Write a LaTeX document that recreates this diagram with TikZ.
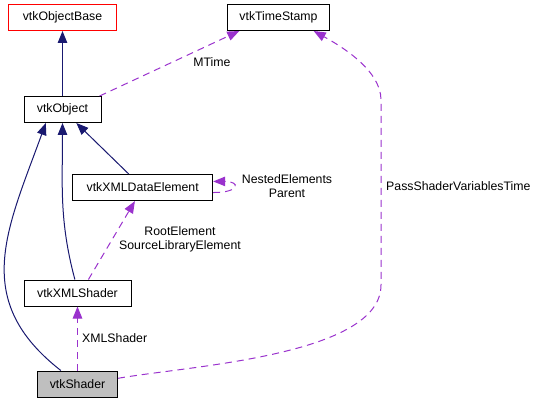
\documentclass[tikz,border=0pt]{standalone}
\usepackage{fontspec}
\setmainfont{Liberation Sans}
\usetikzlibrary{positioning,arrows.meta}
\definecolor{navyedge}{HTML}{191970}
\definecolor{relpurple}{HTML}{9A32CD}
\definecolor{boxgrey}{HTML}{BFBFBF}
\begin{document}
\begin{tikzpicture}[x=1pt,y=1pt,font=\fontsize{12.3}{14}\selectfont,
  cls/.style={draw=black,line width=1pt,fill=white,minimum height=26pt,inner sep=0pt},
  inh/.style={draw=navyedge,line width=1pt,-{Triangle[length=12pt,width=9.5pt]}},
  rel/.style={draw=relpurple,line width=1pt,dash pattern=on 7pt off 5pt,-{Triangle[length=12pt,width=9.5pt]}},
  lbl/.style={inner sep=0pt,align=center}]
\useasboundingbox (0,0) rectangle (545,-403);
\node[cls,minimum width=77pt] (o) at (62.5,-109.5) {vtkObject};
\node[cls,draw=red,minimum width=108pt,above=65pt of o] (ob) {vtkObjectBase};
\node[cls,minimum width=102pt,right=110pt of ob] (ts) {vtkTimeStamp};
\node[cls,minimum width=140pt] (xde) at (142.7,-187.6) {vtkXMLDataElement};
\node[cls,minimum width=107pt] (xs) at (77.5,-293) {vtkXMLShader};
\node[cls,fill=boxgrey,minimum width=80pt,below=64pt of xs] (s) {vtkShader};
\coordinate (pv1) at (381,-285);
\coordinate (pv2) at (381,-100);
\draw[inh] (o) -- (ob);
\draw[inh] (xde) -- (o);
\draw[inh] (xs.101) to[out=105,in=-90] (o);
\draw[inh] (s.141) to[out=142,in=-110,looseness=1.18] (o.-141);
\draw[rel] (o.20) -- (ts.-161);
\draw[rel] (xde.-4.4) to[out=0,in=0,looseness=6.3] (xde.5.4);
\draw[rel] (xs.51) -- (xde.-120);
\draw[rel] (s) -- (xs);
\draw[rel] (s.8) to[out=10,in=-90,looseness=0.65] (pv1) -- (pv2) to[out=90,in=-29,looseness=0.8] (ts.-21);
\node[lbl] (lmt) at (212,-62) {MTime};
\node[lbl] (lne) at (287,-186) {NestedElements\\Parent};
\node[lbl] (lre) at (180,-239) {RootElement\\SourceLibraryElement};
\node[lbl,anchor=west] (lxs) at (82,-337.7) {XMLShader};
\node[lbl,anchor=west] (lpv) at (386,-186) {PassShaderVariablesTime};
\end{tikzpicture}
\end{document}
